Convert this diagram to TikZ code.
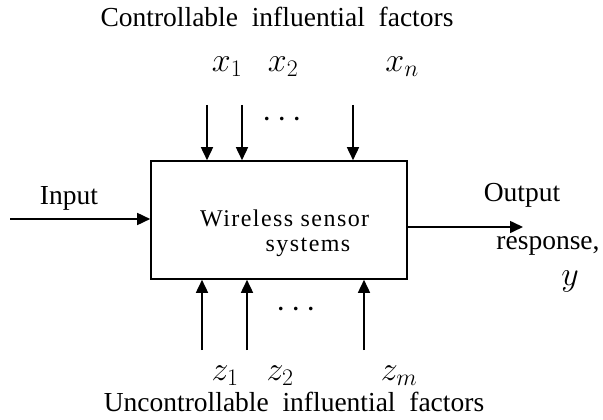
\documentclass[tikz,border=0pt]{standalone}
\usepackage{fix-cm}
\usepackage{fontspec}
\setmainfont{Liberation Serif}
\newfontfamily\boxfont[LetterSpace=6]{Liberation Serif}
\usetikzlibrary{arrows.meta}
\tikzset{
  lbl/.style={inner sep=0pt, font=\fontsize{27.5}{30}\selectfont},
  var/.style={inner sep=0pt, font=\fontsize{34}{38}\selectfont},
  flow/.style={line width=1.6pt, -{Triangle[length=13pt,width=12pt]}}
}
\begin{document}
\begin{tikzpicture}[x=1pt,y=-1pt]
\useasboundingbox (0,0) rectangle (603,420);
\node[draw, line width=1.6pt, minimum width=256pt, minimum height=118pt, inner sep=0pt] (sys) at (279,220) {};
\node[inner sep=0pt, font=\boxfont\fontsize{24}{28}\selectfont, anchor=west] (name1) at (200,218) {Wireless sensor};
\node[inner sep=0pt, font=\boxfont\fontsize{24}{28}\selectfont] (name2) at (308,247) {systems};

\node[lbl] (ctrl) at (277,17) {Controllable\ \ influential\ \ factors};
\node[var] (x1) at (227,67) {$x_1$};
\node[var] (x2) at (283,67) {$x_2$};
\node[var] (xn) at (402,67) {$x_n$};
\node[var] (dtop) at (282,120) {$\cdots$};
\coordinate (tx1) at (207,105);
\coordinate (tx2) at (242,105);
\coordinate (txn) at (353,105);

\draw[flow] (tx1) -- (tx1 |- sys.north);
\draw[flow] (tx2) -- (tx2 |- sys.north);
\draw[flow] (txn) -- (txn |- sys.north);

\coordinate (bz1) at (202,350);
\coordinate (bz2) at (247,350);
\coordinate (bzm) at (364,350);
\draw[flow] (bz1) -- (bz1 |- sys.south);
\draw[flow] (bz2) -- (bz2 |- sys.south);
\draw[flow] (bzm) -- (bzm |- sys.south);
\node[var] (dbot) at (296,310) {$\cdots$};
\node[var] (z1) at (225,376) {$z_1$};
\node[var] (z2) at (280,376) {$z_2$};
\node[var] (zm) at (399,376) {$z_m$};
\node[lbl] (unctrl) at (294,402) {Uncontrollable\ \ influential\ \ factors};

\coordinate (in) at (10,219);
\draw[flow] (in) -- (in -| sys.west);
\node[lbl] (input) at (69,198) {Input};

\coordinate (out) at (523,227);
\draw[flow] (out -| sys.east) -- (out);
\node[lbl] (output) at (522,195) {Output};
\node[lbl] (resp) at (548,246) {response,};
\node[var] (yout) at (570,281) {$y$};
\end{tikzpicture}
\end{document}
